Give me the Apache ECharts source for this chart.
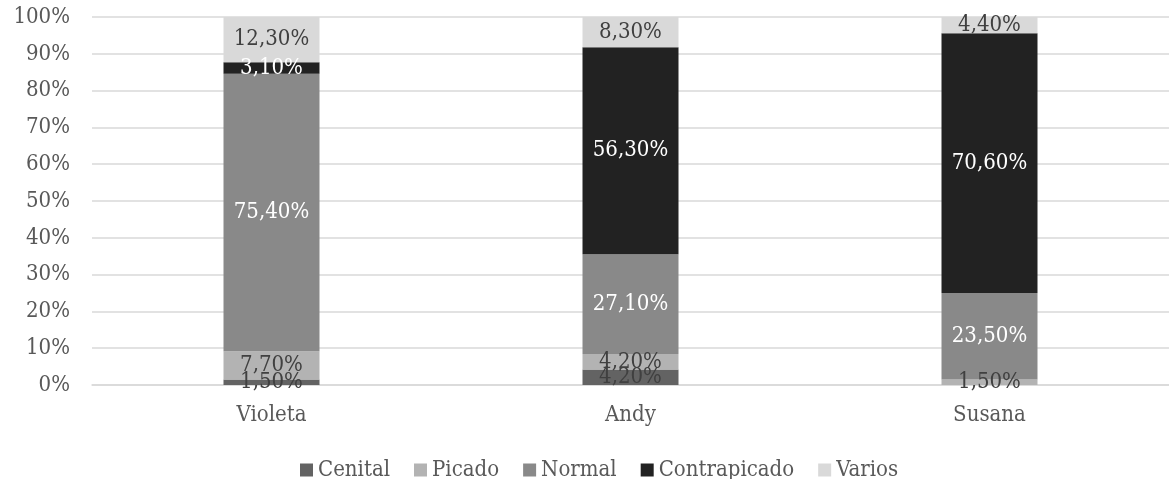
<!DOCTYPE html>
<html>
<head>
<meta charset="utf-8">
<script src="https://cdn.jsdelivr.net/npm/echarts@6/dist/echarts.min.js"></script>
<style>html,body{margin:0;padding:0;background:#fff}#c{width:1169px;height:479px}</style>
</head>
<body>
<div id="c"></div>
<script>
const categories = ['Violeta', 'Andy', 'Susana'];
const seriesNames = ['Cenital', 'Picado', 'Normal', 'Contrapicado', 'Varios'];
const cenital = [1.5, 4.2, 0];
const picado = [7.7, 4.2, 1.5];
const normal = [75.4, 27.1, 23.5];
const contrapicado = [3.1, 56.3, 70.6];
const varios = [12.3, 8.3, 4.4];
const yTicks = [0, 10, 20, 30, 40, 50, 60, 70, 80, 90, 100];

const values = [cenital, picado, normal, contrapicado, varios];
const colors = ['#636363', '#b3b3b3', '#898989', '#222222', '#d9d9d9'];
const labelColors = ['#404040', '#404040', '#ffffff', '#ffffff', '#404040'];
const FONT = '"DejaVu Serif Condensed", "DejaVu Serif", serif';
const FS = 22;

const chart = echarts.init(document.getElementById('c'), null, {renderer: 'canvas'});
chart.setOption({
  animation: false,
  textStyle: {fontFamily: FONT},
  grid: {left: 92, top: 17, width: 1083, bottom: 94, containLabel: false},
  legend: {
    left: 295, top: 454,
    itemWidth: 13, itemHeight: 13, itemGap: 24,
    icon: 'rect',
    textStyle: {fontFamily: FONT, fontSize: FS, color: '#595959', padding: [0, 0, 0, 0]},
    data: seriesNames
  },
  xAxis: {
    type: 'category',
    data: categories,
    axisLine: {lineStyle: {color: '#d9d9d9', width: 1.5}},
    axisTick: {show: false},
    axisLabel: {fontFamily: FONT, fontSize: FS, color: '#595959', margin: 19}
  },
  yAxis: {
    type: 'value',
    min: yTicks[0], max: yTicks[yTicks.length - 1], interval: yTicks[1] - yTicks[0],
    axisLine: {show: false},
    axisTick: {show: false},
    splitLine: {lineStyle: {color: '#d9d9d9', width: 1.5}},
    axisLabel: {fontFamily: FONT, fontSize: FS, color: '#595959', margin: 22, formatter: '{value}%'}
  },
  series: seriesNames.map((name, i) => ({
    name: name,
    type: 'bar',
    stack: 'total',
    barWidth: 96,
    data: values[i],
    itemStyle: {color: colors[i]},
    label: {
      show: true,
      position: 'inside',
      fontFamily: FONT,
      fontSize: FS,
      color: labelColors[i],
      formatter: p => p.value ? p.value.toFixed(2).replace('.', ',') + '%' : ''
    }
  }))
});
</script>
</body>
</html>
